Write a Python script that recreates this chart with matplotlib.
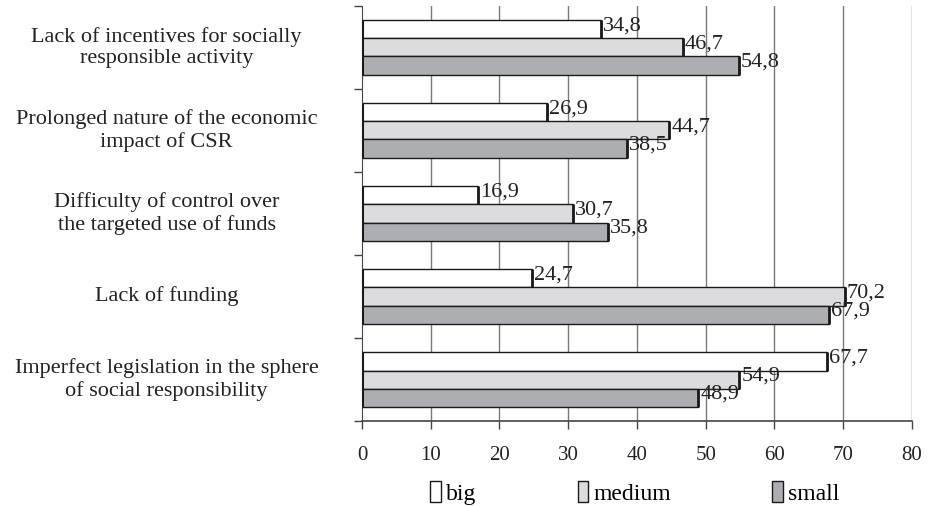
import numpy as np
import matplotlib.pyplot as plt
from matplotlib.patches import Patch

categories = [
    "Lack of incentives for socially\nresponsible activity",
    "Prolonged nature of the economic\nimpact of CSR",
    "Difficulty of control over\nthe targeted use of funds",
    "Lack of funding",
    "Imperfect legislation in the sphere\nof social responsibility",
]
series_names = ["big", "medium", "small"]
big = [34.8, 26.9, 16.9, 24.7, 67.7]
medium = [46.7, 44.7, 30.7, 70.2, 54.9]
small = [54.8, 38.5, 35.8, 67.9, 48.9]
x_ticks = [0, 10, 20, 30, 40, 50, 60, 70, 80]

colors = ["#ffffff", "#dcdcde", "#adaeb2"]
edge = "#1a1a1a"
grid_color = "#7a7a7a"
font = "Liberation Serif"

plt.rcParams["font.family"] = font

fig = plt.figure(figsize=(9.32, 5.07), dpi=100)
ax = fig.add_axes([0.3884, 0.1696, 0.5901, 0.8186])

n = len(categories)
# group i drawn from top to bottom
centers = np.arange(n)[::-1] + 0.5
bh = 0.217
offsets = [bh, 0, -bh]

for gx in x_ticks[1:]:
    ax.axvline(gx, color=grid_color, lw=1.0, zorder=0)

for k, (name, vals) in enumerate(zip(series_names, [big, medium, small])):
    ys = centers + offsets[k]
    ax.barh(ys, vals, height=bh, color=colors[k], edgecolor=edge,
            linewidth=1.0, zorder=2)
    ax.vlines(vals, ys - bh / 2, ys + bh / 2, color=edge, lw=2.0, zorder=3)
    ax.vlines([0] * n, ys - bh / 2, ys + bh / 2, color=edge, lw=2.2, zorder=3)
    for y, v in zip(ys, vals):
        ax.text(v + 0.3, y + 0.04, f"{v:.1f}".replace(".", ","),
                ha="left", va="center", fontsize=16, color="#222222", zorder=4)

ax.set_xlim(0, 80)
ax.set_ylim(0, n)
ax.set_xticks(x_ticks)
ax.set_xticklabels([str(t) for t in x_ticks], fontsize=15, color="#222222")
ax.tick_params(axis="x", length=6, width=1, color="#444444", pad=12)
ax.set_yticks(np.arange(n + 1))
ax.set_yticklabels([])
ax.tick_params(axis="y", length=6, width=1, color="#444444")

for s in ["top", "right"]:
    ax.spines[s].set_visible(False)
ax.spines["left"].set_color("#444444")
ax.spines["bottom"].set_color("#444444")
ax.spines["bottom"].set_linewidth(1.2)

for c, lab in zip(centers, categories):
    ax.text(-0.355, c, lab, transform=ax.get_yaxis_transform(),
            ha="center", va="center", fontsize=16, color="#222222",
            linespacing=1.2)

handles = [Patch(facecolor=colors[k], edgecolor=edge, linewidth=1.0)
           for k in range(3)]
fig.legend(handles, series_names, loc="center", bbox_to_anchor=(0.681, 0.028),
           ncol=3, frameon=False, fontsize=17, handlelength=0.45,
           handleheight=1.0, handletextpad=0.2, columnspacing=4.3)

fig.savefig("out.png", dpi=100)
